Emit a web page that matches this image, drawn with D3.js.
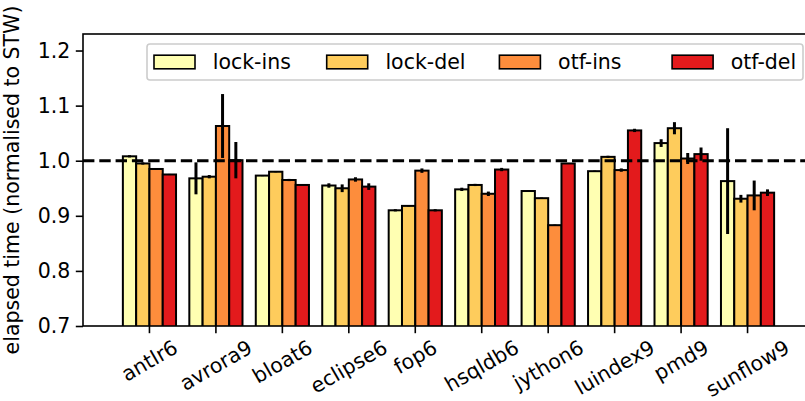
<!DOCTYPE html>
<html>
<head>
<meta charset="utf-8">
<script src="https://cdn.jsdelivr.net/npm/d3@7"></script>
<style>
	body { margin: 0; background: #fff; }
	text { font-family: "DejaVu Sans", sans-serif; fill: #000; }
</style>
</head>
<body>
<svg id="chart" width="805" height="401"></svg>
<script>
'use strict';

var benchmarks = ['antlr6', 'avrora9', 'bloat6', 'eclipse6', 'fop6', 'hsqldb6', 'jython6', 'luindex9', 'pmd9', 'sunflow9'];
var seriesNames = ['lock-ins', 'lock-del', 'otf-ins', 'otf-del'];
var seriesColors = ['#ffffb2', '#fecc5c', '#fd8d3c', '#e31a1c'];

var lockIns    = [1.008, 0.968, 0.973, 0.955, 0.910, 0.948, 0.945, 0.981, 1.032, 0.963];
var lockInsErr = [0.002, 0.029, 0.001, 0.004, 0.002, 0.003, 0.001, 0.001, 0.007, 0.096];
var lockDel    = [0.995, 0.971, 0.980, 0.950, 0.918, 0.956, 0.932, 1.007, 1.059, 0.931];
var lockDelErr = [0.002, 0.003, 0.001, 0.007, 0.001, 0.002, 0.001, 0.002, 0.011, 0.007];
var otfIns     = [0.985, 1.063, 0.965, 0.966, 0.982, 0.940, 0.883, 0.983, 1.004, 0.937];
var otfInsErr  = [0.001, 0.058, 0.002, 0.004, 0.004, 0.004, 0.001, 0.003, 0.010, 0.027];
var otfDel     = [0.975, 1.001, 0.956, 0.953, 0.910, 0.984, 0.995, 1.055, 1.012, 0.942];
var otfDelErr  = [0.001, 0.033, 0.001, 0.006, 0.002, 0.003, 0.001, 0.003, 0.012, 0.006];

var yTicks = [0.7, 0.8, 0.9, 1.0, 1.1, 1.2];
var yLabel = 'elapsed time (normalised to STW)';

var values = [lockIns, lockDel, otfIns, otfDel];
var errors = [lockInsErr, lockDelErr, otfInsErr, otfDelErr];

var FONT = 20.5;
var BAR_W = 0.2;

var svg = d3.select('#chart'),
	margin = {top: 34, left: 83, bottom: 75},
	width = 814 - margin.left,
	height = 401 - margin.top - margin.bottom;

var x = d3.scaleLinear()
	.domain([-1, 10])
	.range([margin.left, margin.left + width]);

var y = d3.scaleLinear()
	.domain([0.7, 1.23])
	.range([margin.top + height, margin.top]);

svg.append('clipPath')
	.attr('id', 'plot-clip')
.append('rect')
	.attr('x', x(-1))
	.attr('y', y(1.23))
	.attr('width', width)
	.attr('height', height);

var plot = svg.append('g').attr('clip-path', 'url(#plot-clip)');

// bars then error bars, one series at a time
seriesNames.forEach(function (name, s) {
	var offset = (s - 1.5) * BAR_W;
	var rows = benchmarks.map(function (b, i) {
		return {i: i, v: values[s][i], e: errors[s][i]};
	});

	plot.append('g')
		.selectAll('rect')
		.data(rows)
		.enter().append('rect')
			.attr('x', function (d) { return x(d.i + offset - BAR_W / 2); })
			.attr('y', function (d) { return y(d.v); })
			.attr('width', x(BAR_W) - x(0))
			.attr('height', function (d) { return y(0.7) - y(d.v) + 3; })
			.style('fill', seriesColors[s])
			.style('stroke', '#000')
			.style('stroke-width', 2);

	plot.append('g')
		.selectAll('line')
		.data(rows)
		.enter().append('line')
			.attr('x1', function (d) { return x(d.i + offset); })
			.attr('x2', function (d) { return x(d.i + offset); })
			.attr('y1', function (d) { return y(d.v - d.e); })
			.attr('y2', function (d) { return y(d.v + d.e); })
			.style('stroke', '#000')
			.style('stroke-width', 3);
});

// reference line at 1.0
plot.append('line')
	.attr('x1', x(-1))
	.attr('x2', x(10))
	.attr('y1', y(1.0))
	.attr('y2', y(1.0))
	.style('stroke', '#000')
	.style('stroke-width', 3)
	.style('stroke-dasharray', '11.4,4.9');

// frame
svg.append('rect')
	.attr('x', x(-1))
	.attr('y', y(1.23))
	.attr('width', width)
	.attr('height', height)
	.style('fill', 'none')
	.style('stroke', '#000')
	.style('stroke-width', 1.6);

// y axis
var yAxis = svg.append('g')
	.attr('transform', 'translate(' + margin.left + ',0)')
	.call(d3.axisLeft(y).tickValues(yTicks).tickFormat(d3.format('.1f')).tickSize(7.2).tickPadding(5.5));
yAxis.select('.domain').remove();
yAxis.selectAll('.tick line').style('stroke', '#000').style('stroke-width', 1.6);
yAxis.selectAll('.tick text')
	.style('font-size', FONT + 'px')
	.style('font-family', '"DejaVu Sans", sans-serif')
	.attr('fill', '#000');

svg.append('text')
	.attr('transform', 'translate(19,' + (margin.top + height / 2) + ') rotate(-90)')
	.style('text-anchor', 'middle')
	.style('font-size', FONT + 'px')
	.text(yLabel);

// x axis: ticks, then rotated labels centred under each tick
var xAxis = svg.append('g');
xAxis.selectAll('line')
	.data(benchmarks)
	.enter().append('line')
		.attr('x1', function (d, i) { return x(i); })
		.attr('x2', function (d, i) { return x(i); })
		.attr('y1', y(0.7))
		.attr('y2', y(0.7) + 7.2)
		.style('stroke', '#000')
		.style('stroke-width', 1.6);

var labelTop = y(0.7) + 9;
var sin30 = Math.sin(Math.PI / 6), cos30 = Math.cos(Math.PI / 6);

xAxis.selectAll('text')
	.data(benchmarks)
	.enter().append('text')
		.style('font-size', FONT + 'px')
		.style('text-anchor', 'middle')
		.attr('dy', '0.35em')
		.text(function (d) { return d; })
		.attr('transform', function (d, i) {
			var w = this.getComputedTextLength();
			var boxH = w * sin30 + FONT * 1.17 * cos30;
			return 'translate(' + x(i) + ',' + (labelTop + boxH / 2) + ') rotate(-30)';
		});

// legend
var legend = svg.append('g');
legend.append('rect')
	.attr('x', 147)
	.attr('y', 44)
	.attr('width', 656)
	.attr('height', 36)
	.attr('rx', 3)
	.style('fill', '#fff')
	.style('fill-opacity', 0.8)
	.style('stroke', '#cccccc')
	.style('stroke-width', 1.6);

var item = legend.selectAll('g.item')
	.data(seriesNames)
	.enter().append('g')
		.attr('class', 'item')
		.attr('transform', function (d, i) { return 'translate(' + (154 + i * 172.7) + ',62)'; });

item.append('rect')
	.attr('x', 0)
	.attr('y', -6.8)
	.attr('width', 41)
	.attr('height', 13.6)
	.style('fill', function (d, i) { return seriesColors[i]; })
	.style('stroke', '#000')
	.style('stroke-width', 1.6);

item.append('text')
	.attr('x', 58.7)
	.attr('dy', '0.35em')
	.style('font-size', FONT + 'px')
	.text(function (d) { return d; });
</script>
</body>
</html>
